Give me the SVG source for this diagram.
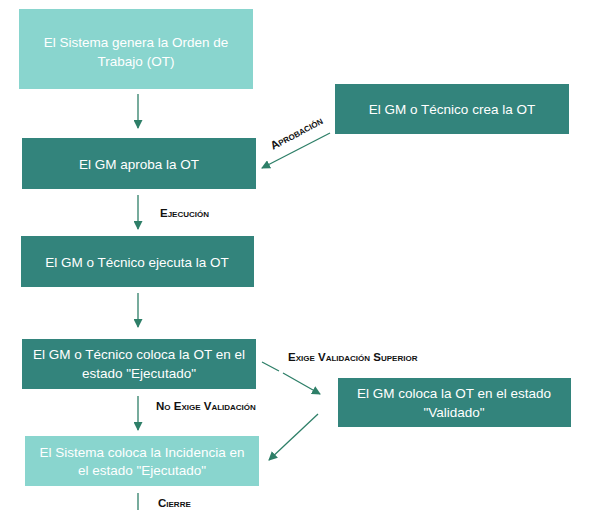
<svg xmlns="http://www.w3.org/2000/svg" width="596" height="510" viewBox="0 0 596 510">
<defs>
<marker id="ah" markerWidth="9" markerHeight="9" refX="8" refY="4.5" orient="auto" markerUnits="userSpaceOnUse">
<path d="M0,0 L9,4.5 L0,9 Z" fill="#2E7F68"/>
</marker>
<style>
.dark{fill:#33847C}
.light{fill:#89D5CE}
.t{font-family:"Liberation Sans",Arial,sans-serif;font-size:13.5px;fill:#FFFFFF;text-anchor:middle}
.lbl{font-family:"Liberation Sans",Arial,sans-serif;font-size:11.5px;font-weight:bold;font-variant:small-caps;fill:#111111}
.c{stroke:#2E7F68;stroke-width:1.3;fill:none;marker-end:url(#ah)}
</style>
</defs>
<rect width="596" height="510" fill="#FFFFFF"/>
<g id="n1"><rect class="light" x="19" y="9" width="234" height="80"/><text class="t" x="136" y="47">El Sistema genera la Orden de</text><text class="t" x="136" y="66">Trabajo (OT)</text></g>
<g id="n2"><rect class="dark" x="22" y="138" width="234" height="51"/><text class="t" x="139" y="169">El GM aproba la OT</text></g>
<g id="n7"><rect class="dark" x="335" y="84" width="234" height="50"/><text class="t" x="452" y="114">El GM o Técnico crea la OT</text></g>
<g id="n3"><rect class="dark" x="21" y="236" width="233" height="51"/><text class="t" x="137" y="267">El GM o Técnico ejecuta la OT</text></g>
<g id="n4"><rect class="dark" x="22" y="339" width="234" height="50"/><text class="t" x="139" y="359">El GM o Técnico coloca la OT en el</text><text class="t" x="139" y="378">estado "Ejecutado"</text></g>
<g id="n6"><rect class="dark" x="338" y="378" width="233" height="49"/><text class="t" x="454" y="398">El GM coloca la OT en el estado</text><text class="t" x="454" y="417">"Validado"</text></g>
<g id="n5"><rect class="light" x="25" y="436" width="234" height="50"/><text class="t" x="142" y="457">El Sistema coloca la Incidencia en</text><text class="t" x="142" y="475">el estado "Ejecutado"</text></g>
<g id="connectors">
<line class="c" x1="138" y1="94" x2="138" y2="128"/>
<line class="c" x1="330" y1="133" x2="262" y2="168"/>
<line class="c" x1="138" y1="195" x2="138" y2="229"/>
<line class="c" x1="138" y1="293" x2="138" y2="327"/>
<line class="c" x1="138" y1="396" x2="138" y2="430"/>
<path class="c" d="M262,362 L279,371 M283,373 L320,394"/>
<line class="c" x1="318" y1="414" x2="269" y2="460"/>
<line stroke="#2E7F68" stroke-width="1.3" x1="138" y1="493" x2="138" y2="512"/>
<text class="lbl" transform="translate(273,150) rotate(-28)">Aprobación</text>
<text class="lbl" x="160" y="217">Ejecución</text>
<text class="lbl" x="156" y="410">No Exige Validación</text>
<text class="lbl" x="288" y="361">Exige Validación Superior</text>
<text class="lbl" x="158" y="507">Cierre</text>
</g>
</svg>
